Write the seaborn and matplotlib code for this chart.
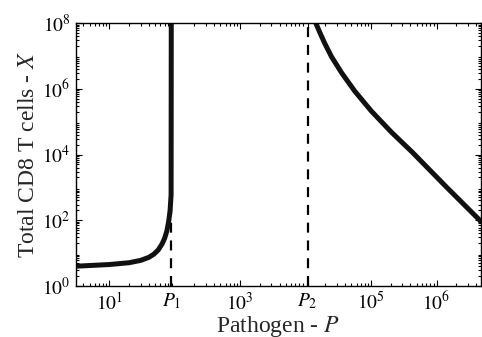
import numpy as np
import pandas as pd
import seaborn as sns
import matplotlib.pyplot as plt

# Threshold pathogen loads
P1 = 88.5
P2 = 1.07e4

# Low-load branch (runs into the vertical asymptote at P1)
low_P = [3.1, 10, 20, 30, 40, 48, 56, 64, 70, 76, 81, 85, 88, 88.5]
low_X = [4.0, 4.5, 5.1, 6.0, 7.4, 9.3, 12.5, 19, 28, 48, 95, 200, 600, 1e8]

# High-load branch
high_P = [1.43e4, 1.64e4, 1.96e4, 2.48e4, 3.53e4, 5.62e4, 1.01e5,
          2.04e5, 4.31e5, 1.42e6, 4.7e6]
high_X = [1e8, 5.25e7, 2.4e7, 9.5e6, 3.1e6, 8.5e5, 2.09e5,
          4.8e4, 1.15e4, 1.02e3, 95]

x_ticks = [10, P1, 1e3, P2, 1e5, 1e6]
x_ticklabels = [r'$10^{1}$', r'$P_{\mathit{1}}$', r'$10^{3}$',
                r'$P_{\mathit{2}}$', r'$10^{5}$', r'$10^{6}$']
y_ticks = [1, 1e2, 1e4, 1e6, 1e8]
y_ticklabels = [r'$10^{0}$', r'$10^{2}$', r'$10^{4}$', r'$10^{6}$', r'$10^{8}$']

sns.set_style("ticks")
plt.rcParams['font.family'] = ['Liberation Serif', 'DejaVu Serif']
plt.rcParams['mathtext.fontset'] = 'stix'

low_df = pd.DataFrame({'P': low_P, 'X': low_X})
high_df = pd.DataFrame({'P': high_P, 'X': high_X})

fig = plt.figure(figsize=(4.82, 3.37), dpi=100)
ax = fig.add_axes([76 / 482, 1 - 286 / 337, (480.5 - 76) / 482, (286 - 23) / 337])

# dashed thresholds
for p in (P1, P2):
    ax.plot([p, p], [1, 1e8], color='black', lw=1.6, ls=(0, (4.5, 3.5)), zorder=1)

for df in (low_df, high_df):
    sns.lineplot(data=df, x='P', y='X', sort=False, estimator=None, ax=ax,
                 color='#111111', lw=3.6, zorder=2)

ax.set_xscale('log')
ax.set_yscale('log')
ax.set_xlim(3.1, 4.7e6)
ax.set_ylim(1, 1e8)

ax.set_xticks(x_ticks)
ax.set_xticklabels(x_ticklabels, fontsize=14)
ax.set_yticks(y_ticks)
ax.set_yticklabels(y_ticklabels, fontsize=14)

ax.tick_params(which='both', direction='in', top=True, right=True, width=0.8, colors='black')
ax.tick_params(which='major', length=4, pad=4)
ax.tick_params(which='minor', length=2)
for s in ax.spines.values():
    s.set_linewidth(1.0)
    s.set_color('black')

ax.set_xlabel('Pathogen - $P$', fontsize=17, labelpad=0)
ax.set_ylabel('Total CD8 T cells - $X$', fontsize=17, labelpad=2)

fig.savefig('out.png', dpi=100)
